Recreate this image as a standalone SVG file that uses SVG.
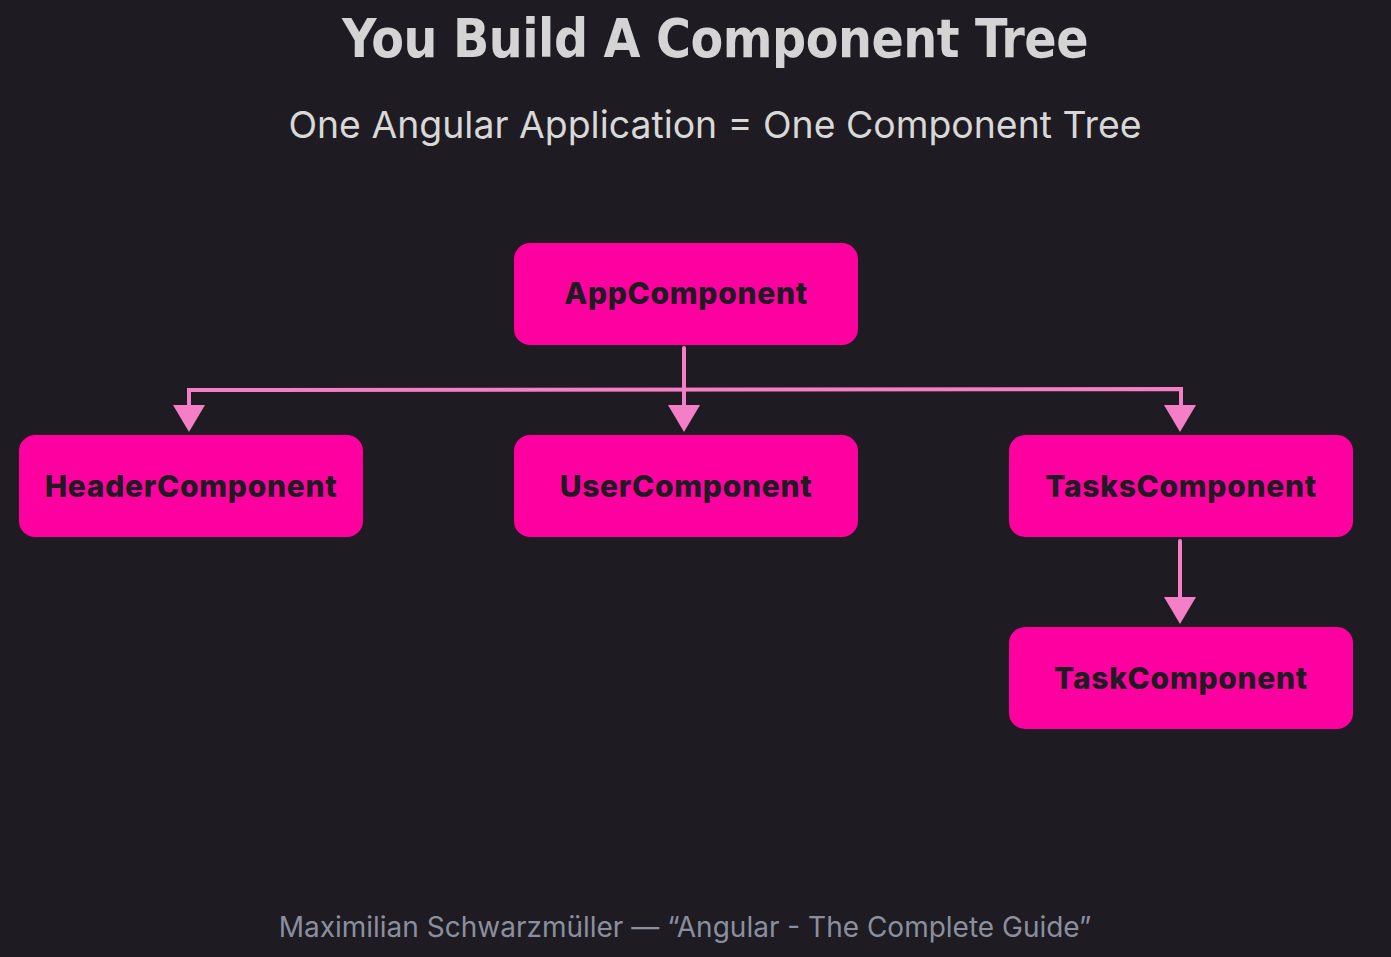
<svg xmlns="http://www.w3.org/2000/svg" width="1391" height="957" viewBox="0 0 1391 957">
<style>
.node rect{fill:#ff00a0}
.node text{font-family:Inter,"Noto Sans",sans-serif;font-weight:800;font-size:30px;fill:#1e1b22;text-anchor:middle;letter-spacing:0.7px}
.conn path{stroke:#f47fc6;stroke-width:4;fill:none;stroke-linecap:round}
.conn path.head{stroke:none;fill:#f47fc6}
</style>
<rect width="1391" height="957" fill="#1e1b22"/>
<text x="715" y="57" font-family="'DejaVu Sans Condensed','DejaVu Sans',sans-serif" font-stretch="condensed" font-weight="bold" font-size="53" fill="#d4d4d4" text-anchor="middle" letter-spacing="-0.5">You Build A Component Tree</text>
<text x="715" y="138" font-family="Inter,Roboto,sans-serif" font-size="37.4" fill="#d8d8d8" text-anchor="middle">One Angular Application = One Component Tree</text>
<text x="685" y="937" font-family="Inter,Roboto,sans-serif" font-size="28" fill="#8b8f9d" text-anchor="middle">Maximilian Schwarzmüller — “Angular - The Complete Guide”</text>
<g class="conn" id="connectors">
<path d="M189,405 L189,390 L1181,389 L1181,405"/>
<path d="M684,348 L684,405"/>
<path d="M1180,541 L1180,597"/>
<path class="head" d="M173,405 L205,405 L189,432 Z"/>
<path class="head" d="M668,405 L700,405 L684,432 Z"/>
<path class="head" d="M1164,405 L1196,405 L1180,432 Z"/>
<path class="head" d="M1164,597 L1196,597 L1180,624 Z"/>
</g>
<g class="node" id="app"><rect x="514" y="243" width="344" height="102" rx="16"/><text x="686" y="304">AppComponent</text></g>
<g class="node" id="header"><rect x="19" y="435" width="344" height="102" rx="16"/><text x="191" y="497">HeaderComponent</text></g>
<g class="node" id="user"><rect x="514" y="435" width="344" height="102" rx="16"/><text x="686" y="497">UserComponent</text></g>
<g class="node" id="tasks"><rect x="1009" y="435" width="344" height="102" rx="16"/><text x="1181" y="497">TasksComponent</text></g>
<g class="node" id="task"><rect x="1009" y="627" width="344" height="102" rx="16"/><text x="1181" y="689">TaskComponent</text></g>
</svg>
